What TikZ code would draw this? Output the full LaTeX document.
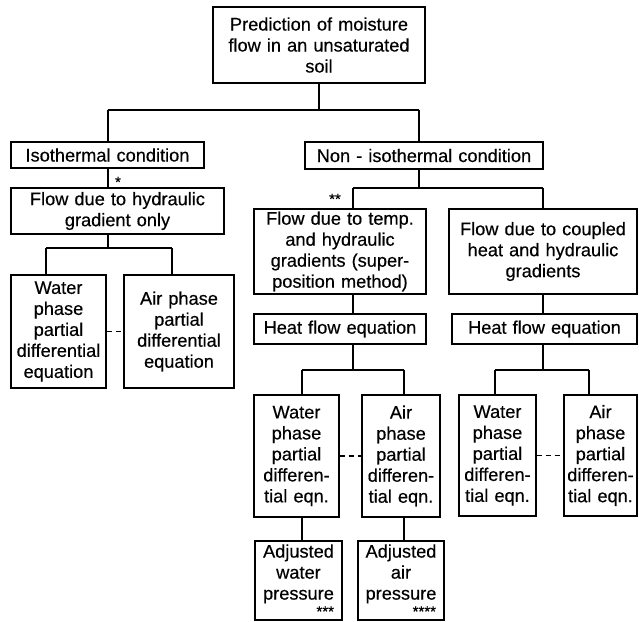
\documentclass[tikz,border=0pt]{standalone}
\usepackage{fontspec}
\setmainfont{Liberation Sans}[FakeBold=0.4]
\newcommand{\starsright}[1]{\hskip0pt plus 1fill{\fontsize{15}{15}\selectfont #1}\kern8pt}
\begin{document}
\begin{tikzpicture}[x=1pt,y=-1pt,
  box/.style={draw, line width=1.2pt, inner sep=0pt, align=center,
    font=\fontsize{18.2}{21}\selectfont},
  conn/.style={line width=1.2pt},
  dashconn/.style={line width=1.2pt, dash pattern=on 5pt off 4pt},
  starmark/.style={inner sep=0pt, font=\fontsize{15}{15}\selectfont}]
\fill[white] (0,0) rectangle (639,621);
\useasboundingbox (0,0) rectangle (639,621);

% nodes
\node[box, text width=212pt, minimum height=76pt] (top) at (319,45)
  {Prediction of moisture\\flow in an unsaturated\\soil};
\node[box, text width=193pt, minimum height=26pt] (iso) at (107.5,155)
  {Isothermal condition};
\node[box, text width=238pt, minimum height=27pt] (noniso) at (424,155.5)
  {Non - isothermal condition};
\node[box, text width=213pt, minimum height=46pt] (flowh) at (117.5,211)
  {Flow due to hydraulic\\gradient only};
\node[box, text width=95pt, minimum height=113pt] (wat0) at (58.5,331.5)
  {Water\\phase\\partial\\differential\\equation};
\node[box, text width=110pt, minimum height=113pt] (air0) at (179,331.5)
  {Air phase\\partial\\differential\\equation};
\node[box, text width=172pt, minimum height=85pt] (flowt) at (340,251.5)
  {Flow due to temp.\\and hydraulic\\gradients (super-\\position method)};
\node[box, text width=188pt, minimum height=85pt] (flowc) at (543,251.5)
  {Flow due to coupled\\heat and hydraulic\\gradients};
\node[box, text width=172pt, minimum height=30pt] (heat1) at (340,329)
  {Heat flow equation};
\node[box, text width=185pt, minimum height=30pt] (heat2) at (544.5,329)
  {Heat flow equation};
\node[box, text width=85pt, minimum height=122pt] (wat1) at (296.5,456)
  {Water\\phase\\partial\\differen-\\tial eqn.};
\node[box, text width=78pt, minimum height=122pt] (air1) at (401,456)
  {Air\\phase\\partial\\differen-\\tial eqn.};
\node[box, text width=77pt, minimum height=121pt] (wat2) at (497.5,455.5)
  {Water\\phase\\partial\\differen-\\tial eqn.};
\node[box, text width=73pt, minimum height=121pt] (air2) at (600.5,455.5)
  {Air\\phase\\partial\\differen-\\tial eqn.};
\node[box, text width=87pt, minimum height=79pt] (adjw) at (298.5,580.5)
  {Adjusted\\water\\pressure\\[-4pt]\starsright{***}};
\node[box, text width=86pt, minimum height=79pt] (adja) at (401,580.5)
  {Adjusted\\air\\pressure\\[-4pt]\starsright{****}};

% star marks
\node[starmark] (s1) at (118,182) {*};
\node[starmark] (s2) at (335,199) {**};

% junction coordinates
\coordinate (j1) at (319,110);
\coordinate (j1l) at (108,110);
\coordinate (j1r) at (419,110);
\coordinate (j2) at (419,188);
\coordinate (j2l) at (353,188);
\coordinate (j2r) at (543,188);
\coordinate (j3) at (108,248);
\coordinate (j3l) at (46,248);
\coordinate (j3r) at (172,248);
\coordinate (j4) at (353,370);
\coordinate (j4l) at (302,370);
\coordinate (j4r) at (404,370);
\coordinate (j5) at (543,370);
\coordinate (j5l) at (495,370);
\coordinate (j5r) at (589,370);

% connectors
\draw[conn] (top.south) -- (j1);
\draw[conn] (j1l) -- (j1r);
\draw[conn] (j1l) -- (j1l |- iso.north);
\draw[conn] (j1r) -- (j1r |- noniso.north);

\draw[conn] (iso.south -| j1l) -- (flowh.north -| j1l);

\draw[conn] (noniso.south -| j2) -- (j2);
\draw[conn] (j2l) -- (j2r);
\draw[conn] (j2l) -- (j2l |- flowt.north);
\draw[conn] (j2r) -- (j2r |- flowc.north);

\draw[conn] (flowh.south -| j3) -- (j3);
\draw[conn] (j3l) -- (j3r);
\draw[conn] (j3l) -- (j3l |- wat0.north);
\draw[conn] (j3r) -- (j3r |- air0.north);
\draw[dashconn] (wat0) -- (air0);

\draw[conn] (flowt.south -| j2l) -- (heat1.north -| j2l);
\draw[conn] (flowc.south -| j2r) -- (heat2.north -| j2r);

\draw[conn] (heat1.south -| j4) -- (j4);
\draw[conn] (j4l) -- (j4r);
\draw[conn] (j4l) -- (j4l |- wat1.north);
\draw[conn] (j4r) -- (j4r |- air1.north);
\draw[dashconn] (wat1) -- (air1);

\draw[conn] (heat2.south -| j5) -- (j5);
\draw[conn] (j5l) -- (j5r);
\draw[conn] (j5l) -- (j5l |- wat2.north);
\draw[conn] (j5r) -- (j5r |- air2.north);
\draw[dashconn] (wat2) -- (air2);

\draw[conn] (wat1.south -| j4l) -- (adjw.north -| j4l);
\draw[conn] (air1.south -| j4r) -- (adja.north -| j4r);
\end{tikzpicture}
\end{document}
